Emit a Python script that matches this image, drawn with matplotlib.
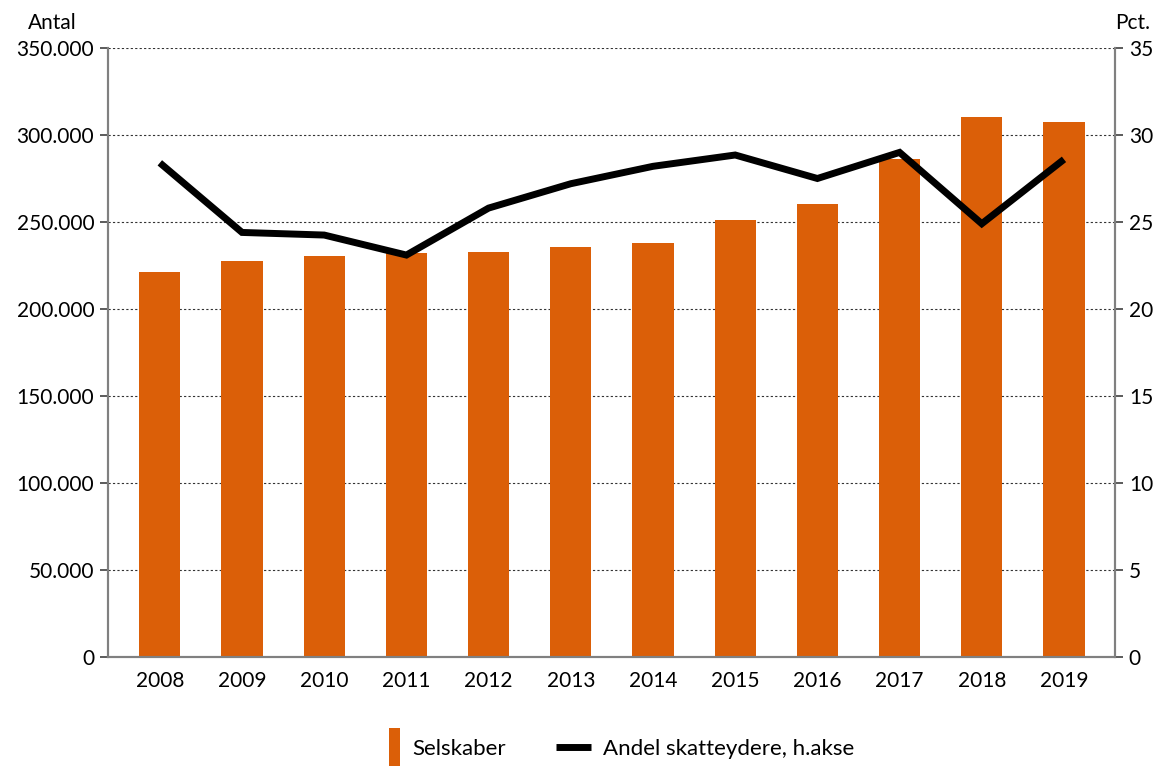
import matplotlib.pyplot as plt
from matplotlib.patches import Rectangle, Patch
from matplotlib.lines import Line2D
from matplotlib.legend_handler import HandlerPatch
from matplotlib.ticker import FuncFormatter

plt.rcParams['font.family'] = ['Lato', 'DejaVu Sans']

years = ['2008', '2009', '2010', '2011', '2012', '2013',
         '2014', '2015', '2016', '2017', '2018', '2019']
selskaber = [221200, 227600, 230300, 232200, 232800, 235600,
             237900, 251100, 260300, 286200, 310300, 307200]
andel = [28.4, 24.4, 24.25, 23.1, 25.8, 27.2,
         28.2, 28.85, 27.5, 29.0, 24.9, 28.6]

orange = '#DB5F08'
grey = '#808080'
fs = 15

fig = plt.figure(figsize=(11.53, 7.69), dpi=100)
ax = fig.add_axes([0.0937, 0.1456, 0.967 - 0.0937, 0.9376 - 0.1456])
ax2 = ax.twinx()

x = list(range(len(years)))
ax.bar(x, selskaber, width=0.5, color=orange, zorder=2)
ax2.plot(x, andel, color='black', linewidth=5, solid_joinstyle='miter',
         solid_capstyle='butt', zorder=3)

ax.set_xlim(-0.63, 11.62)
ax.set_ylim(0, 350000)
ax.set_yticks(range(0, 350001, 50000))
ax.yaxis.set_major_formatter(FuncFormatter(lambda v, p: f'{int(v):,}'.replace(',', '.')))
ax2.set_ylim(0, 35)
ax2.set_yticks(range(0, 36, 5))

ax.set_xticks(x)
ax.set_xticklabels(years)
ax.tick_params(axis='x', length=0, pad=10, labelsize=fs)
ax.tick_params(axis='y', length=6, width=1.2, color='#404040', pad=4, labelsize=fs)
ax2.tick_params(axis='y', length=6, width=1.2, color='#404040', pad=4, labelsize=fs)

ax.grid(axis='y', linestyle=(0, (2, 2)), color='#333333', linewidth=0.8, zorder=0)
ax.set_axisbelow(True)

for a in (ax, ax2):
    a.spines['top'].set_visible(False)
    for s in ('left', 'right', 'bottom'):
        a.spines[s].set_color(grey)
        a.spines[s].set_linewidth(1.5)

ax.text(-0.08, 1.025, 'Antal', transform=ax.transAxes, fontsize=fs, ha='left', va='bottom')
ax.text(1.035, 1.025, 'Pct.', transform=ax.transAxes, fontsize=fs, ha='right', va='bottom')


# narrow, tall swatch for the bar series, pushed to the right of its handle box
def tall_patch(legend, orig_handle, xdescent, ydescent, width, height, fontsize):
    h = 27
    return Rectangle((width - 8.5, height / 2 - h / 2), 8.5, h)


handles = [Patch(facecolor=orange, edgecolor='none'),
           Line2D([], [], color='black', linewidth=5, solid_capstyle='butt')]
fig.legend(handles, ['Selskaber', 'Andel skatteydere, h.akse'],
           loc='center', bbox_to_anchor=(0.529, 0.026), ncol=2, frameon=False,
           fontsize=16, handlelength=1.58, handletextpad=0.54, columnspacing=2.25,
           handler_map={Patch: HandlerPatch(patch_func=tall_patch)})

fig.savefig('out.png', dpi=100)
